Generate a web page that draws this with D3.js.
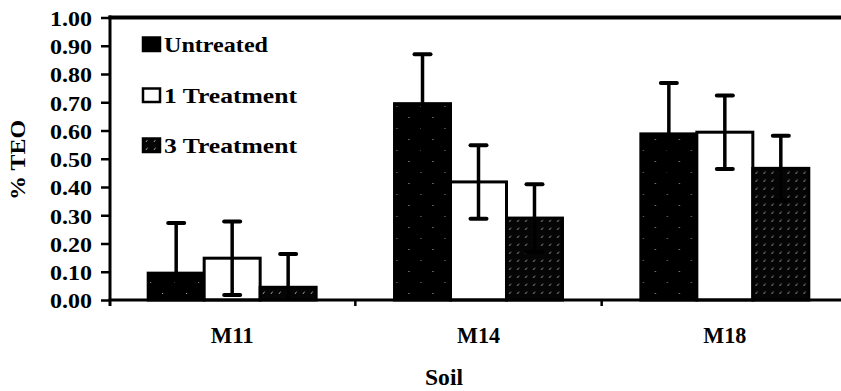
<!DOCTYPE html>
<html>
<head>
<meta charset="utf-8">
<script src="https://cdn.jsdelivr.net/npm/d3@7"></script>
<style>
  html, body { margin: 0; padding: 0; background: #fff; }
  svg { display: block; }
  text { font-family: "Liberation Serif", "Times New Roman", Times, serif; fill: #000; }
</style>
</head>
<body>
<svg id="chart" width="841" height="391"></svg>
<script>
// ---- data ----
const categories = ["M11", "M14", "M18"];
const seriesNames = ["Untreated", "1 Treatment", "3 Treatment"];
const untreated = [0.095, 0.695, 0.588];
const treatment1 = [0.148, 0.418, 0.594];
const treatment3 = [0.045, 0.290, 0.466];
const errUntreated = [0.178, 0.175, 0.180];
const errTreatment1 = [0.130, 0.130, 0.130];
const errTreatment3 = [0.118, 0.120, 0.115];
const yTicks = [0, 0.1, 0.2, 0.3, 0.4, 0.5, 0.6, 0.7, 0.8, 0.9, 1.0];
const yTitle = "% TEO";
const xTitle = "Soil";

const values = [untreated, treatment1, treatment3];
const errors = [errUntreated, errTreatment1, errTreatment3];

const svg = d3.select("#chart");

// patterns
const defs = svg.append("defs");
const pSolid = defs.append("pattern").attr("id", "pSolid")
  .attr("patternUnits", "userSpaceOnUse").attr("width", 24).attr("height", 22);
pSolid.append("rect").attr("width", 24).attr("height", 22).attr("fill", "#000");
pSolid.append("rect").attr("x", 5).attr("y", 7).attr("width", 1.2).attr("height", 1).attr("fill", "#999");
pSolid.append("rect").attr("x", 17).attr("y", 18).attr("width", 1.2).attr("height", 1).attr("fill", "#777");

const pHatch = defs.append("pattern").attr("id", "pHatch")
  .attr("patternUnits", "userSpaceOnUse").attr("width", 8).attr("height", 8);
pHatch.append("rect").attr("width", 8).attr("height", 8).attr("fill", "#050505");
pHatch.append("line").attr("x1", 2).attr("y1", 6).attr("x2", 3.6).attr("y2", 3.6)
  .attr("stroke", "#bdbdbd").attr("stroke-width", 0.8);

const fills = ["url(#pSolid)", "#fff", "url(#pHatch)"];

// scales
const x0 = d3.scaleBand().domain(categories).range([109, 848]).padding(0);
const x1 = d3.scaleBand().domain(seriesNames).range([0, x0.bandwidth()])
  .paddingInner(0).paddingOuter(0.7);
const y = d3.scaleLinear().domain([0, 1]).range([300, 17.5]);

const stretch = (sel, len) => sel.attr("textLength", len).attr("lengthAdjust", "spacingAndGlyphs");

// bars
const groups = svg.append("g").selectAll("g").data(categories).join("g")
  .attr("transform", d => `translate(${x0(d)},0)`);

seriesNames.forEach((s, si) => {
  groups.append("rect")
    .attr("x", (d) => x1(s))
    .attr("y", (d, i) => y(values[si][i]))
    .attr("width", x1.bandwidth())
    .attr("height", (d, i) => y(0) - y(values[si][i]))
    .attr("fill", fills[si])
    .attr("stroke", "#000")
    .attr("stroke-width", 3);
});

// error bars
seriesNames.forEach((s, si) => {
  groups.each(function(d, i) {
    const g = d3.select(this);
    const cx = x1(s) + x1.bandwidth() / 2;
    const v = values[si][i], e = errors[si][i];
    const hi = y(v + e);
    const lo = y(Math.max(0, v - e));
    g.append("line").attr("x1", cx).attr("x2", cx).attr("y1", hi).attr("y2", lo)
      .attr("stroke", "#000").attr("stroke-width", 3.5);
    g.append("line").attr("x1", cx - 8).attr("x2", cx + 8).attr("y1", hi).attr("y2", hi)
      .attr("stroke", "#000").attr("stroke-width", 4).attr("stroke-linecap", "round");
    if (v - e >= 0) {
      g.append("line").attr("x1", cx - 8).attr("x2", cx + 8).attr("y1", lo).attr("y2", lo)
        .attr("stroke", "#000").attr("stroke-width", 4).attr("stroke-linecap", "round");
    }
  });
});

// y axis
const yAxis = svg.append("g").attr("transform", "translate(110,0)")
  .call(d3.axisLeft(y).tickValues(yTicks).tickFormat(d3.format(".2f")).tickSize(9).tickPadding(9));
yAxis.attr("font-family", null);
yAxis.select(".domain").remove();
yAxis.selectAll(".tick line").attr("stroke", "#000").attr("stroke-width", 2.5);
yAxis.selectAll(".tick text")
  .attr("font-size", 22).attr("font-weight", "bold").attr("fill", "#000")
  .attr("dy", "0.36em")
  .each(function() { stretch(d3.select(this), 42); });

// frame lines
svg.append("line").attr("x1", 110).attr("x2", 110).attr("y1", y(1) - 2).attr("y2", y(0) + 6)
  .attr("stroke", "#000").attr("stroke-width", 3);
svg.append("line").attr("x1", 108.5).attr("x2", 841).attr("y1", y(1)).attr("y2", y(1))
  .attr("stroke", "#000").attr("stroke-width", 4);
svg.append("line").attr("x1", 108.5).attr("x2", 841).attr("y1", y(0)).attr("y2", y(0))
  .attr("stroke", "#000").attr("stroke-width", 3);

// category boundary ticks
svg.append("g").selectAll("line").data(categories.slice(1)).join("line")
  .attr("x1", d => x0(d)).attr("x2", d => x0(d))
  .attr("y1", y(0)).attr("y2", y(0) + 6)
  .attr("stroke", "#000").attr("stroke-width", 2.5);

// category labels
svg.append("g").selectAll("text").data(categories).join("text")
  .attr("x", d => x0(d) + x0.bandwidth() / 2)
  .attr("y", 343)
  .attr("text-anchor", "middle")
  .attr("font-size", 24).attr("font-weight", "bold")
  .text(d => d)
  .each(function() { stretch(d3.select(this), 43); });

// axis titles
svg.append("text").attr("x", 444).attr("y", 385).attr("text-anchor", "middle")
  .attr("font-size", 24).attr("font-weight", "bold").text(xTitle)
  .each(function() { stretch(d3.select(this), 38); });

svg.append("text").attr("transform", "translate(25,160) rotate(-90)")
  .attr("text-anchor", "middle")
  .attr("font-size", 21).attr("font-weight", "bold").text(yTitle)
  .each(function() { stretch(d3.select(this), 80); });

// legend
const legendBaselines = [52, 103, 153];
const legendLens = [104, 133, 133];
const legend = svg.append("g").selectAll("g").data(seriesNames).join("g");
legend.append("rect")
  .attr("x", 143).attr("y", (d, i) => legendBaselines[i] - 14.5)
  .attr("width", 17).attr("height", 13.5)
  .attr("fill", (d, i) => fills[i])
  .attr("stroke", "#000").attr("stroke-width", 2.5);
legend.append("text")
  .attr("x", 164).attr("y", (d, i) => legendBaselines[i])
  .attr("font-size", 21).attr("font-weight", "bold")
  .text(d => d)
  .each(function(d, i) { stretch(d3.select(this), legendLens[i]); });
</script>
</body>
</html>
